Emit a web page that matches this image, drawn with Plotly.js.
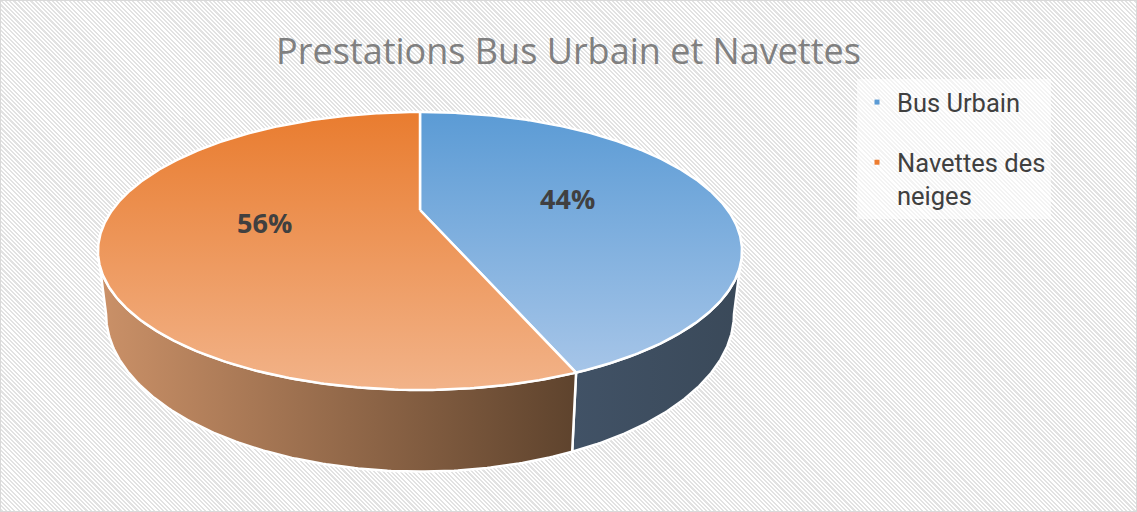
<!DOCTYPE html>
<html>
<head>
<meta charset="utf-8">
<script src="https://cdn.plot.ly/plotly-3.0.1.min.js"></script>
<style>
  html, body { margin: 0; padding: 0; background: #fff; }
  #chart {
    width: 1137px; height: 512px;
    background: repeating-linear-gradient(45deg, #ffffff 0px, #ffffff 1.5px, #e2e2e2 1.5px, #e2e2e2 3px);
  }
</style>
</head>
<body>
<div id="chart"></div>
<script>
// ---- data ----
const categories = ['Bus Urbain', 'Navettes des neiges'];
const values = [44, 56];
const legendLabels = ['Bus Urbain', 'Navettes des<br>neiges'];
const chartTitle = 'Prestations Bus Urbain et Navettes';

// ---- styles ----
const baseColors = ['#5B9BD5', '#ED7D31'];
const topGradients = [['#A6C5E8', '#5B9BD5'], ['#F2B389', '#E97C2F']];
const wallGradients = [['#415266', '#3A4959'], ['#CB9168', '#5E432D']];

// ---- 3D pie projection parameters (pixels) ----
const W = 1137, Hh = 512;
const CX = 420, CY = 210, A = 307.7, B = 126.9, K = 0.295, DEPTH = 57.5, S = 0.975;

function proj(theta, r, bottom) {
  const u = r * Math.sin(theta), v = -r * Math.cos(theta);
  const w = 1 - K * v;
  const x = CX + (A * u / w) * (bottom ? S : 1);
  const y = CY + B * v / w + (bottom ? DEPTH / w : 0);
  return [x, Hh - y];
}
function arc(t0, t1, bottom) {
  const pts = [];
  const n = Math.max(2, Math.ceil(Math.abs(t1 - t0) / (Math.PI / 360)));
  for (let i = 0; i <= n; i++) pts.push(proj(t0 + (t1 - t0) * i / n, 1, bottom));
  return pts;
}

const total = values.reduce((a, b) => a + b, 0);
const angles = [];
let acc = 0;
values.forEach(v => { const t0 = acc / total * 2 * Math.PI; acc += v; angles.push([t0, acc / total * 2 * Math.PI]); });

const wMin = Math.acos(-K), wMax = 2 * Math.PI - Math.acos(-K);
const traces = [];
const outline = { color: '#ffffff', width: 2.5 };

// walls
angles.forEach(([t0, t1], i) => {
  const a0 = Math.max(t0, wMin), a1 = Math.min(t1, wMax);
  if (a0 >= a1) return;
  const pts = arc(a0, a1, false).concat(arc(a1, a0, true));
  pts.push(pts[0]);
  const xs = pts.map(p => p[0]);
  traces.push({
    type: 'scatter', mode: 'lines', x: xs, y: pts.map(p => p[1]),
    fill: 'toself', line: outline, hoverinfo: 'skip', showlegend: false,
    fillcolor: wallGradients[i][0],
    fillgradient: { type: 'horizontal', start: Math.min(...xs), stop: Math.max(...xs),
      colorscale: [[0, wallGradients[i][0]], [1, wallGradients[i][1]]] }
  });
});

// top faces
const annotations = [];
angles.forEach(([t0, t1], i) => {
  const c = proj(0, 0, false);
  const pts = [c].concat(arc(t0, t1, false));
  pts.push(c);
  const ys = pts.map(p => p[1]);
  traces.push({
    type: 'scatter', mode: 'lines', x: pts.map(p => p[0]), y: ys,
    fill: 'toself', line: outline, hoverinfo: 'skip', showlegend: false,
    fillcolor: topGradients[i][1],
    fillgradient: { type: 'vertical', start: Math.min(...ys), stop: Math.max(...ys),
      colorscale: [[0, topGradients[i][0]], [1, topGradients[i][1]]] }
  });
  const mid = (t0 + t1) / 2;
  const lp = proj(mid, 0.5, false);
  annotations.push({
    x: lp[0], y: lp[1], xref: 'x', yref: 'y', showarrow: false,
    text: '<b>' + Math.round(values[i] / total * 100) + '%</b>',
    font: { family: 'Open Sans, sans-serif', size: 27, color: '#404040' }
  });
});

// legend entries
categories.forEach((cat, i) => {
  traces.push({
    type: 'scatter', mode: 'markers', x: [null], y: [null], name: legendLabels[i],
    legendgroup: 'g' + i, showlegend: true,
    marker: { symbol: 'square', size: 5, color: baseColors[i] }
  });
});

const layout = {
  width: W, height: Hh,
  margin: { l: 0, r: 0, t: 0, b: 0 },
  paper_bgcolor: 'rgba(0,0,0,0)', plot_bgcolor: 'rgba(0,0,0,0)',
  xaxis: { range: [0, W], visible: false, fixedrange: true },
  yaxis: { range: [0, Hh], visible: false, fixedrange: true },
  title: { text: chartTitle, x: 0.5, xanchor: 'center', y: 1 - 51 / Hh, yanchor: 'middle',
    font: { family: 'Open Sans, sans-serif', size: 36, color: '#808080' } },
  showlegend: true,
  legend: {
    x: 857 / W, y: 1 - 79 / Hh, xanchor: 'left', yanchor: 'top',
    bgcolor: 'rgba(255,255,255,0.6)', borderwidth: 0,
    font: { family: 'Roboto, sans-serif', size: 25.5, color: '#404040' },
    valign: 'top', tracegroupgap: 24, itemclick: false, itemdoubleclick: false
  },
  annotations: annotations,
  shapes: [{ type: 'rect', xref: 'paper', yref: 'paper', x0: 0, x1: 1, y0: 0, y1: 1,
    line: { color: '#D9D9D9', width: 2 }, fillcolor: 'rgba(0,0,0,0)' }]
};

Plotly.newPlot('chart', traces, layout, { staticPlot: true, displayModeBar: false });
</script>
</body>
</html>
